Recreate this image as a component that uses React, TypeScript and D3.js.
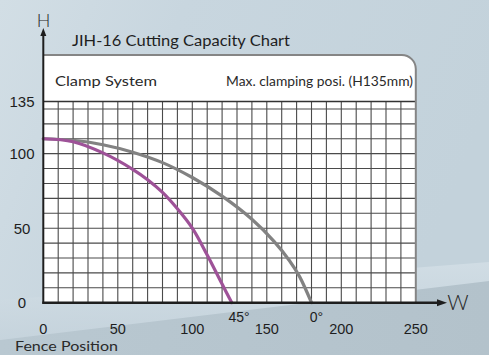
import React from "react";
import * as d3 from "d3";

const xTicks = [0, 50, 100, 150, 200, 250];
const yTicks = [0, 50, 100, 135];
const gridX = d3.range(10, 250, 10);
const gridY = d3.range(10, 135, 10);

const angle45X = [0, 20, 40, 60, 70, 80, 90, 100, 110, 120, 126.5];
const angle45Y = [110, 108, 100.5, 89.5, 82.5, 74, 63, 50, 32, 12.5, 0];
const angle0X = [0, 20, 40, 60, 80, 100, 120, 140, 155, 165, 172, 180];
const angle0Y = [110, 109, 106, 101, 94, 84, 71.5, 56, 41, 28.5, 17.5, 0];

const angleLabels = [
  { text: "45°", at: 128 },
  { text: "0°", at: 180 },
];

const W = 489;
const H = 355;

export default function App() {
  const x = d3.scaleLinear().domain([0, 250]).range([43.3, 415.8]);
  const y = d3.scaleLinear().domain([0, 135]).range([302.7, 101.5]);
  const line = d3
    .line<[number, number]>()
    .x((d) => x(d[0]))
    .y((d) => y(d[1]))
    .curve(d3.curveCatmullRom.alpha(0.5));
  const p45 = line(angle45X.map((v, i) => [v, angle45Y[i]]) as [number, number][]) || "";
  const p0 = line(angle0X.map((v, i) => [v, angle0Y[i]]) as [number, number][]) || "";

  const x0 = x(0);
  const x1 = x(250);
  const yb = y(0);
  const yt = y(135);
  const boxTop = 55;
  const r = 14;

  const boxPath = `M${x0},${yb} L${x0},${boxTop} L${x1 - r},${boxTop} A${r},${r} 0 0 1 ${x1},${boxTop + r} L${x1},${yb} Z`;
  const borderPath = `M${x0},${boxTop} L${x1 - r},${boxTop} A${r},${r} 0 0 1 ${x1},${boxTop + r} L${x1},${yb}`;

  const geo = "'Lato', 'DejaVu Sans', sans-serif";
  const num = "'Liberation Sans', Arial, sans-serif";

  return (
    <svg
      width={W}
      height={H}
      style={{ position: "absolute", left: 0, top: 0, display: "block" }}
    >
      <defs>
        <linearGradient id="bg" x1="0" y1="0" x2="1" y2="0.3">
          <stop offset="0" stopColor="#d2dee5" />
          <stop offset="0.35" stopColor="#c8d6df" />
          <stop offset="1" stopColor="#c3d2db" />
        </linearGradient>
        <linearGradient id="band" x1="0" y1="0" x2="0" y2="1">
          <stop offset="0" stopColor="#d6e1e8" />
          <stop offset="1" stopColor="#c4d2db" />
        </linearGradient>
        <linearGradient id="low" x1="0" y1="0" x2="1" y2="0">
          <stop offset="0" stopColor="#b9c8d1" />
          <stop offset="1" stopColor="#b3c2cb" />
        </linearGradient>
      </defs>
      <rect x={0} y={0} width={W} height={H} fill="url(#bg)" />
      <polygon points={`0,300 ${W},262 ${W},282 0,340`} fill="url(#band)" opacity={0.7} />
      <polygon points={`0,340 ${W},281 ${W},${H} 0,${H}`} fill="url(#low)" />

      <path d={boxPath} fill="#ffffff" />

      {gridX.map((g) => (
        <line key={"gx" + g} x1={x(g)} x2={x(g)} y1={yb} y2={yt} stroke="#4a4a4a" strokeWidth={1.1} />
      ))}
      {gridY.map((g) => (
        <line key={"gy" + g} x1={x0} x2={x1} y1={y(g)} y2={y(g)} stroke="#4a4a4a" strokeWidth={1.1} />
      ))}
      <line x1={x0} x2={x1} y1={yt} y2={yt} stroke="#333" strokeWidth={1.3} />
      <path d={borderPath} fill="none" stroke="#858585" strokeWidth={2} />

      <path d={p0} fill="none" stroke="#828282" strokeWidth={3.2} strokeLinecap="round" />
      <path d={p45} fill="none" stroke="#9e5298" strokeWidth={3.2} strokeLinecap="round" />

      {/* axes */}
      <line x1={x0} x2={x0} y1={yb + 1} y2={34} stroke="#1e1e1e" strokeWidth={2} />
      <polygon points={`${x0},28 ${x0 - 3},36 ${x0 + 3},36`} fill="#1e1e1e" />
      <line x1={x0 - 1} x2={440} y1={yb} y2={yb} stroke="#1e1e1e" strokeWidth={2.5} />
      <polygon points={`447,${yb} 437,${yb - 3.5} 437,${yb + 3.5}`} fill="#1e1e1e" />

      <text x={43.5} y={27} fontFamily={geo} fontSize={18} fontWeight={300} fill="#2a2a2a" textAnchor="middle">
        H
      </text>
      <text x={458} y={310} fontFamily={geo} fontSize={21} fontWeight={300} fill="#2a2a2a" textAnchor="middle">
        W
      </text>

      <text x={72} y={46} fontFamily={geo} fontSize={15} fill="#1e1e1e" textLength={218} lengthAdjust="spacingAndGlyphs">
        JIH-16 Cutting Capacity Chart
      </text>
      <text x={55} y={86} fontFamily={geo} fontSize={14} fill="#2a2a2a" textLength={102} lengthAdjust="spacingAndGlyphs">
        Clamp System
      </text>
      <text x={226} y={86} fontFamily={geo} fontSize={14} fill="#2a2a2a" textLength={187} lengthAdjust="spacingAndGlyphs">
        Max. clamping posi. (H135mm)
      </text>

      {yTicks.map((t) => (
        <text key={"yt" + t} x={22} y={y(t) + 5.5} fontFamily={num} fontSize={15} fill="#1e1e1e" textAnchor="middle">
          {t}
        </text>
      ))}
      {xTicks.map((t) => (
        <text key={"xt" + t} x={x(t)} y={334} fontFamily={num} fontSize={14.5} fill="#1e1e1e" textAnchor="middle">
          {t}
        </text>
      ))}
      {angleLabels.map((a) => (
        <text key={a.text} x={x(a.at) + 5} y={322} fontFamily={num} fontSize={14} fill="#1e1e1e" textAnchor="middle">
          {a.text}
        </text>
      ))}
      <text x={15} y={351} fontFamily={geo} fontSize={13.5} fill="#2a2a2a" textLength={103} lengthAdjust="spacingAndGlyphs">
        Fence Position
      </text>
    </svg>
  );
}
